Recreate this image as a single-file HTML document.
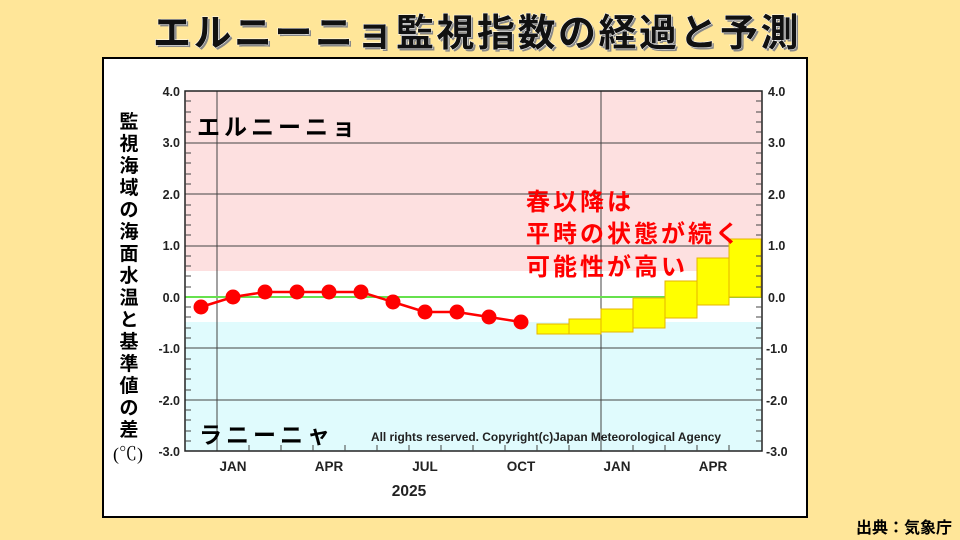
<!DOCTYPE html>
<html><head><meta charset="utf-8"><style>
body{margin:0;background:#ffe699;}
svg{display:block;font-family:"Liberation Sans","Noto Sans CJK JP",sans-serif;}
</style></head><body>
<svg width="960" height="540" viewBox="0 0 960 540">
<rect width="960" height="540" fill="#ffe699"/>
<text x="477" y="46" text-anchor="middle" font-size="38" font-weight="bold" letter-spacing="2.5" fill="#888" transform="translate(2,2)">エルニーニョ監視指数の経過と予測</text>
<text x="477" y="46" text-anchor="middle" font-size="38" font-weight="bold" letter-spacing="2.5" fill="#111" stroke="#fff" stroke-width="1" paint-order="stroke">エルニーニョ監視指数の経過と予測</text>
<rect x="103" y="58" width="704" height="459" fill="#fff" stroke="#000" stroke-width="2"/>
<rect x="185" y="91" width="577" height="180" fill="#fde0e0"/>
<rect x="185" y="322" width="577" height="129" fill="#e0fbfd"/>
<g stroke="#444" stroke-width="1">
<line x1="185" y1="143" x2="762" y2="143"/><line x1="185" y1="194" x2="762" y2="194"/>
<line x1="185" y1="246" x2="762" y2="246"/><line x1="185" y1="348" x2="762" y2="348"/>
<line x1="185" y1="400" x2="762" y2="400"/>
<line x1="217" y1="91" x2="217" y2="451"/><line x1="601" y1="91" x2="601" y2="451"/>
</g>
<line x1="185" y1="297" x2="762" y2="297" stroke="#66e14d" stroke-width="2"/>
<g fill="#ffff00" stroke="#e6b400" stroke-width="1">
<rect x="537" y="324" width="32" height="10"/>
<rect x="569" y="319" width="32" height="15"/>
<rect x="601" y="309" width="32" height="23"/>
<rect x="633" y="298" width="32" height="30"/>
<rect x="665" y="281" width="32" height="37"/>
<rect x="697" y="258" width="32" height="47"/>
<rect x="729" y="239" width="32" height="58"/>
</g>
<rect x="185" y="91" width="577" height="360" fill="none" stroke="#222" stroke-width="1.5"/>
<g stroke="#444" stroke-width="1">
<path d="M185 101h6M185 112h6M185 122h6M185 132h6M185 153h6M185 163h6M185 174h6M185 184h6M185 205h6M185 215h6M185 225h6M185 235h6M185 256h6M185 266h6M185 276h6M185 287h6M185 307h6M185 317h6M185 328h6M185 338h6M185 359h6M185 369h6M185 379h6M185 390h6M185 410h6M185 420h6M185 431h6M185 441h6"/>
<path d="M762 101h-6M762 112h-6M762 122h-6M762 132h-6M762 153h-6M762 163h-6M762 174h-6M762 184h-6M762 205h-6M762 215h-6M762 225h-6M762 235h-6M762 256h-6M762 266h-6M762 276h-6M762 287h-6M762 307h-6M762 317h-6M762 328h-6M762 338h-6M762 359h-6M762 369h-6M762 379h-6M762 390h-6M762 410h-6M762 420h-6M762 431h-6M762 441h-6"/>
<path d="M249 451v-6M281 451v-6M313 451v-6M345 451v-6M377 451v-6M409 451v-6M441 451v-6M473 451v-6M505 451v-6M537 451v-6M569 451v-6M633 451v-6M665 451v-6M697 451v-6M729 451v-6"/>
</g>
<g font-size="12.5" font-weight="bold" fill="#222" text-anchor="end">
<text x="180" y="96">4.0</text><text x="180" y="147">3.0</text><text x="180" y="199">2.0</text><text x="180" y="250">1.0</text><text x="180" y="302">0.0</text><text x="180" y="353">-1.0</text><text x="180" y="405">-2.0</text><text x="180" y="456">-3.0</text>
</g>
<g font-size="12.5" font-weight="bold" fill="#222">
<text x="768" y="96">4.0</text><text x="768" y="147">3.0</text><text x="768" y="199">2.0</text><text x="768" y="250">1.0</text><text x="768" y="302">0.0</text><text x="766" y="353">-1.0</text><text x="766" y="405">-2.0</text><text x="766" y="456">-3.0</text>
</g>
<g font-size="13.5" font-weight="bold" fill="#222" text-anchor="middle">
<text x="233" y="471">JAN</text><text x="329" y="471">APR</text><text x="425" y="471">JUL</text><text x="521" y="471">OCT</text><text x="617" y="471">JAN</text><text x="713" y="471">APR</text>
<text x="409" y="496" font-size="15.5">2025</text>
</g>
<text x="546" y="441" text-anchor="middle" font-size="12" font-weight="bold" fill="#222" textLength="350" lengthAdjust="spacingAndGlyphs">All rights reserved. Copyright(c)Japan Meteorological Agency</text>
<polyline points="201,307 233,297 265,292 297,292 329,292 361,292 393,302 425,312 457,312 489,317 521,322" fill="none" stroke="#f00" stroke-width="2.5"/>
<g fill="#f00">
<circle cx="201" cy="307" r="7.5"/><circle cx="233" cy="297" r="7.5"/><circle cx="265" cy="292" r="7.5"/><circle cx="297" cy="292" r="7.5"/><circle cx="329" cy="292" r="7.5"/><circle cx="361" cy="292" r="7.5"/><circle cx="393" cy="302" r="7.5"/><circle cx="425" cy="312" r="7.5"/><circle cx="457" cy="312" r="7.5"/><circle cx="489" cy="317" r="7.5"/><circle cx="521" cy="322" r="7.5"/>
</g>
<text x="197" y="135" font-size="23" font-weight="bold" fill="#000" letter-spacing="4">エルニーニョ</text>
<text x="199" y="443" font-size="23" font-weight="bold" fill="#000" letter-spacing="4">ラニーニャ</text>
<g font-size="24" font-weight="bold" fill="#f00" letter-spacing="3">
<text x="526" y="210">春以降は</text><text x="526" y="242">平時の状態が続く</text><text x="526" y="275">可能性が高い</text>
</g>
<g font-size="19" font-weight="bold" fill="#000" text-anchor="middle">
<text x="129" y="128">監</text><text x="129" y="150">視</text><text x="129" y="172">海</text><text x="129" y="194">域</text><text x="129" y="216">の</text><text x="129" y="238">海</text><text x="129" y="260">面</text><text x="129" y="282">水</text><text x="129" y="304">温</text><text x="129" y="326">と</text><text x="129" y="348">基</text><text x="129" y="370">準</text><text x="129" y="392">値</text><text x="129" y="414">の</text><text x="129" y="436">差</text>
<text x="128" y="460" font-weight="normal" font-size="18" font-family="Liberation Serif,Noto Serif CJK SC,serif">(℃)</text>
</g>
<text x="952" y="533" text-anchor="end" font-size="16" font-weight="bold" fill="#000">出典：気象庁</text>
</svg>
</body></html>
